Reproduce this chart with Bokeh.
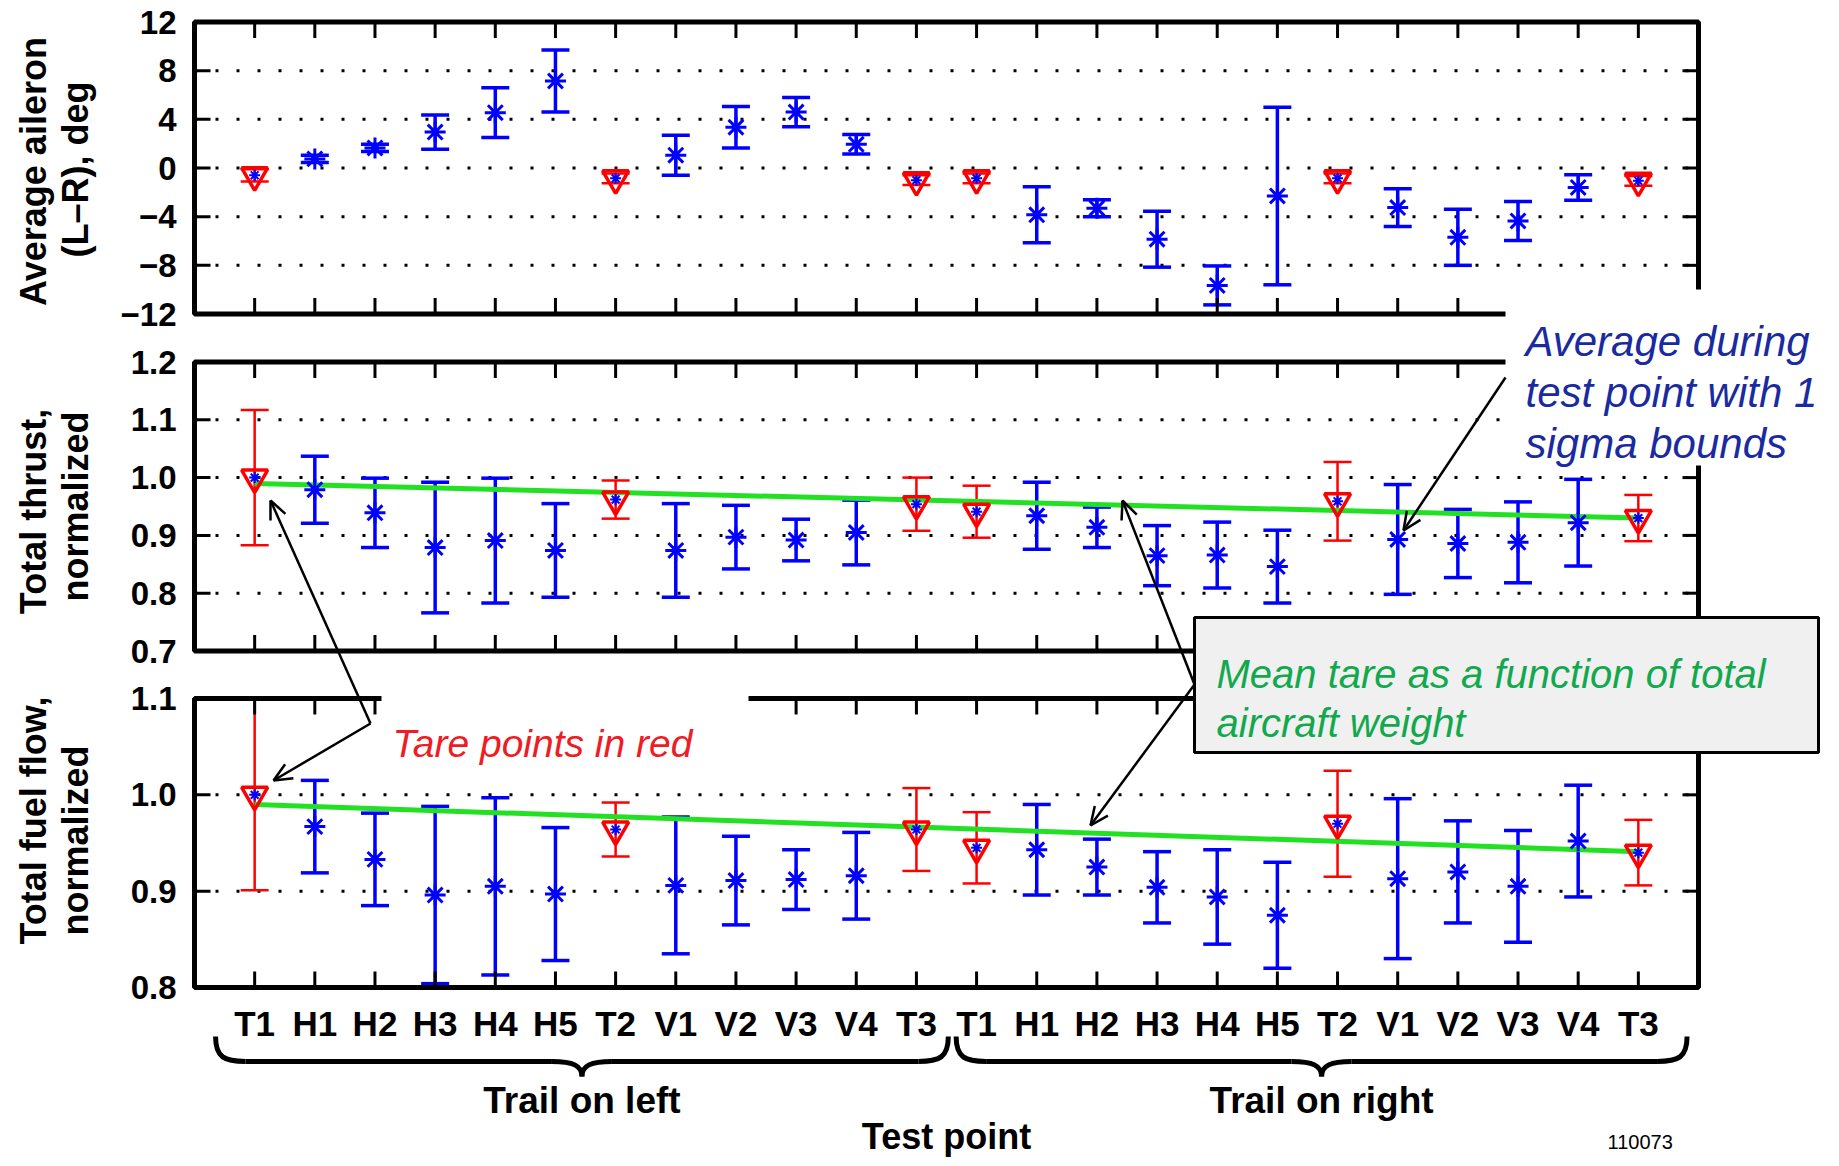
import math
from bokeh.plotting import figure
from bokeh.models import Range1d
from bokeh.core.properties import value
from bokeh.embed import file_html
from bokeh.resources import INLINE

# ---------------- data ----------------
test_points = ["T1", "H1", "H2", "H3", "H4", "H5", "T2", "V1", "V2", "V3", "V4", "T3",
               "T1", "H1", "H2", "H3", "H4", "H5", "T2", "V1", "V2", "V3", "V4", "T3"]
group_names = ["Trail on left", "Trail on right"]
group_brace_start = [0.35, 12.66]
group_brace_end = [12.53, 24.81]

aileron_mean = [-0.6, 0.75, 1.65, 2.95, 4.55, 7.15, -0.85, 1.05, 3.35, 4.6, 1.95, -1.0,
                -0.85, -3.85, -3.3, -5.85, -9.65, -2.3, -0.85, -3.25, -5.7, -4.35, -1.6, -1.05]
aileron_sd = [0.5, 0.3, 0.3, 1.4, 2.05, 2.55, 0.4, 1.65, 1.7, 1.2, 0.8, 0.4,
              0.4, 2.3, 0.7, 2.3, 1.6, 7.3, 0.4, 1.55, 2.3, 1.6, 1.05, 0.4]

thrust_mean = [1.0, 0.979, 0.939, 0.879, 0.891, 0.874, 0.962, 0.874, 0.897, 0.892, 0.905, 0.954,
               0.941, 0.934, 0.914, 0.865, 0.866, 0.846, 0.959, 0.893, 0.886, 0.888, 0.922, 0.930]
thrust_sd = [0.117, 0.058, 0.060, 0.113, 0.108, 0.081, 0.033, 0.081, 0.055, 0.036, 0.056, 0.046,
             0.045, 0.058, 0.035, 0.052, 0.057, 0.063, 0.068, 0.095, 0.059, 0.070, 0.075, 0.040]

fuel_mean = [1.0, 0.967, 0.933, 0.896, 0.905, 0.897, 0.964, 0.906, 0.911, 0.912, 0.916, 0.964,
             0.945, 0.943, 0.925, 0.904, 0.894, 0.875, 0.970, 0.913, 0.920, 0.905, 0.952, 0.940]
fuel_sd = [0.099, 0.048, 0.048, 0.092, 0.092, 0.069, 0.028, 0.071, 0.046, 0.031, 0.045, 0.043,
           0.037, 0.047, 0.029, 0.037, 0.049, 0.055, 0.055, 0.083, 0.053, 0.058, 0.058, 0.034]

fit_x = [1, 24]
thrust_fit = [0.990, 0.930]
fuel_fit = [0.990, 0.941]

aileron_ticks = [-12, -8, -4, 0, 4, 8, 12]
aileron_tick_labels = ["\u221212", "\u22128", "\u22124", "0", "4", "8", "12"]
thrust_ticks = [0.7, 0.8, 0.9, 1.0, 1.1, 1.2]
thrust_tick_labels = ["0.7", "0.8", "0.9", "1.0", "1.1", "1.2"]
fuel_ticks = [0.8, 0.9, 1.0, 1.1]
fuel_tick_labels = ["0.8", "0.9", "1.0", "1.1"]

# ---------------- layout ----------------
PM = 0
W, H = 1835, 1160
FX0, FX1 = 194.0, 1698.0
XD0, XD1 = 0.0, 25.0
kx = (FX1 - FX0) / (XD1 - XD0)

BLUE = "#0000ff"
RED = "#ff0000"
GREEN = "#22e022"
FONT = value("Liberation Sans")

is_tare = [tp.startswith("T") for tp in test_points]
xs = list(range(1, len(test_points) + 1))

panels = [
    dict(name="ail", top=21.5, bottom=313.5, mean=aileron_mean, sd=aileron_sd,
         ticks=aileron_ticks, labels=aileron_tick_labels, fit=None,
         ylabel=[("Average aileron", 33, 171), ("(L\u2013R), deg", 75, 169)]),
    dict(name="thr", top=361.5, bottom=650.5, mean=thrust_mean, sd=thrust_sd,
         ticks=thrust_ticks, labels=thrust_tick_labels, fit=thrust_fit,
         ylabel=[("Total thrust,", 33, 511), ("normalized", 75, 506)]),
    dict(name="ff", top=698.0, bottom=987.0, mean=fuel_mean, sd=fuel_sd,
         ticks=fuel_ticks, labels=fuel_tick_labels, fit=fuel_fit,
         ylabel=[("Total fuel flow,", 33, 820), ("normalized", 75, 840)]),
]

p = figure(width=W, height=H,
           x_range=Range1d(XD0 + (PM - FX0) / kx, XD0 + (PM + W - FX0) / kx),
           y_range=Range1d(PM + H, PM),
           x_axis_type=None, y_axis_type=None, min_border=0,
           toolbar_location=None, output_backend="svg", outline_line_color=None)
p.background_fill_color = "white"
p.border_fill_color = "white"
p.extra_x_ranges = {"px": Range1d(PM, PM + W)}

cap_half = 14.0 / kx
TICK = 16.0
tick_dx = TICK / kx

for pn in panels:
    lo, hi = pn["ticks"][0], pn["ticks"][-1]
    ky = (pn["bottom"] - pn["top"]) / (hi - lo)
    yr = pn["name"]
    p.extra_y_ranges[yr] = Range1d(hi - (PM + H - pn["top"]) / ky, hi + (pn["top"] - PM) / ky)
    tick_dy = TICK / ky

    inner = pn["ticks"][1:-1]
    p.segment(x0=[XD0] * len(inner), x1=[XD1] * len(inner), y0=inner, y1=inner,
              y_range_name=yr, line_color="black", line_width=3, line_dash="3 18")

    mean, sd = pn["mean"], pn["sd"]
    lo_v = [m - s for m, s in zip(mean, sd)]
    hi_v = [m + s for m, s in zip(mean, sd)]
    cols = [RED if t else BLUE for t in is_tare]
    lws = [2.5 if t else 3.5 for t in is_tare]
    p.segment(x0=xs, x1=xs, y0=lo_v, y1=hi_v, y_range_name=yr, line_color=cols, line_width=lws)
    for v in (lo_v, hi_v):
        p.segment(x0=[x - cap_half for x in xs], x1=[x + cap_half for x in xs], y0=v, y1=v,
                  y_range_name=yr, line_color=cols, line_width=lws)

    if pn["fit"] is not None:
        p.line(fit_x, pn["fit"], y_range_name=yr, line_color=GREEN, line_width=5)

    tx = [x for x, t in zip(xs, is_tare) if t]
    ty = [m for m, t in zip(mean, is_tare) if t]
    nx = [x for x, t in zip(xs, is_tare) if not t]
    ny = [m for m, t in zip(mean, is_tare) if not t]
    p.scatter(nx, ny, y_range_name=yr, marker="asterisk", size=21, line_color=BLUE, line_width=3)
    p.scatter(tx, ty, y_range_name=yr, marker="inverted_triangle", size=26,
              fill_color=None, line_color=RED, line_width=3.5)
    p.scatter(tx, ty, y_range_name=yr, marker="asterisk", size=11, line_color=BLUE, line_width=2)

    # frame
    p.quad(left=[XD0], right=[XD1], bottom=[lo], top=[hi], y_range_name=yr,
           fill_color=None, line_color="black", line_width=5)
    # x ticks (top and bottom)
    p.segment(x0=xs, x1=xs, y0=[lo] * len(xs), y1=[lo + tick_dy] * len(xs),
              y_range_name=yr, line_color="black", line_width=3)
    p.segment(x0=xs, x1=xs, y0=[hi] * len(xs), y1=[hi - tick_dy] * len(xs),
              y_range_name=yr, line_color="black", line_width=3)
    # y ticks (left and right)
    tk = pn["ticks"]
    p.segment(x0=[XD0] * len(tk), x1=[XD0 + tick_dx] * len(tk), y0=tk, y1=tk,
              y_range_name=yr, line_color="black", line_width=3)
    p.segment(x0=[XD1] * len(tk), x1=[XD1 - tick_dx] * len(tk), y0=tk, y1=tk,
              y_range_name=yr, line_color="black", line_width=3)
    # tick labels
    p.text(x=[176] * len(tk), y=tk, text=pn["labels"], x_range_name="px", y_range_name=yr,
           text_align="right", text_baseline="middle", text_font=FONT,
           text_font_style="bold", text_font_size="33px", text_color="black")
    # y labels
    for txt, lx, ly in pn["ylabel"]:
        p.text(x=[lx], y=[ly], text=[txt], x_range_name="px", angle=math.pi / 2,
               text_align="center", text_baseline="middle", text_font=FONT,
               text_font_style="bold", text_font_size="36px", text_color="black")

# x tick labels
p.text(x=xs, y=[1023] * len(xs), text=test_points, text_align="center", text_baseline="middle",
       text_font=FONT, text_font_style="bold", text_font_size="35px", text_color="black")

# group braces
for name, g0, g1 in zip(group_names, group_brace_start, group_brace_end):
    xa = g0 * kx + FX0
    xb = g1 * kx + FX0
    xc = (xa + xb) / 2
    yt, ym, yb = 1036, 1061, 1076
    r = 30
    x0 = [xa, xb, xc - r, xc + r]
    y0 = [yt, yt, ym, ym]
    x1 = [xa + r, xb - r, xc, xc]
    y1 = [ym, ym, yb, yb]
    cx0 = [xa, xb, xc - r * 0.3, xc + r * 0.3]
    cy0 = [ym - 4, ym - 4, ym, ym]
    cx1 = [xa + r * 0.3, xb - r * 0.3, xc, xc]
    cy1 = [ym, ym, ym + 4, ym + 4]
    p.bezier(x0=x0, y0=y0, x1=x1, y1=y1, cx0=cx0, cy0=cy0, cx1=cx1, cy1=cy1,
             x_range_name="px", line_color="black", line_width=5)
    p.segment(x0=[xa + r, xc + r], x1=[xc - r, xb - r], y0=[ym, ym], y1=[ym, ym],
              x_range_name="px", line_color="black", line_width=5)
    p.text(x=[xc], y=[1100], text=[name], x_range_name="px", text_align="center",
           text_baseline="middle", text_font=FONT, text_font_style="bold",
           text_font_size="37px", text_color="black")

p.text(x=[(XD0 + XD1) / 2], y=[1136], text=["Test point"], text_align="center",
       text_baseline="middle", text_font=FONT, text_font_style="bold",
       text_font_size="36px", text_color="black")
p.text(x=[1607], y=[1148], text=["110073"], x_range_name="px", text_align="left",
       text_baseline="bottom", text_font=FONT, text_font_size="20px", text_color="black")

# ---------------- annotations ----------------
p.quad(left=[1505], right=[PM + W], top=[289], bottom=[465], x_range_name="px",
       fill_color="white", line_color=None)
p.quad(left=[381], right=[748], top=[685], bottom=[760], x_range_name="px",
       fill_color="white", line_color=None)
p.quad(left=[1194], right=[1818], top=[617], bottom=[752], x_range_name="px",
       fill_color="#f0f0f0", line_color="black", line_width=3)


def arrow(x0, y0, x1, y1, head=20, ang=0.42):
    a = math.atan2(y1 - y0, x1 - x0)
    hx1 = x1 - head * math.cos(a - ang)
    hy1 = y1 - head * math.sin(a - ang)
    hx2 = x1 - head * math.cos(a + ang)
    hy2 = y1 - head * math.sin(a + ang)
    p.segment(x0=[x0, x1, x1], y0=[y0, y1, y1], x1=[x1, hx1, hx2], y1=[y1, hy1, hy2],
              x_range_name="px", line_color="black", line_width=2.5)


arrow(370, 723, 270, 500)
arrow(370, 723, 273, 780)
arrow(1505, 377, 1403, 530)
arrow(1194, 684, 1122, 500)
arrow(1194, 684, 1090, 825)

ITF = dict(x_range_name="px", text_align="left", text_baseline="alphabetic", text_font=FONT,
           text_font_style="italic")
p.text(x=[392], y=[743], text=["Tare points in red"], text_color="#ee1c24",
       text_font_size="39px", **ITF)
p.text(x=[1525] * 3, y=[341, 392, 443],
       text=["Average during", "test point with 1", "sigma bounds"], text_color="#1a2aa0",
       text_font_size="42px", **ITF)
p.text(x=[1216] * 2, y=[673, 722], text=["Mean tare as a function of total", "aircraft weight"],
       text_color="#12a84e", text_font_size="40px", **ITF)

open("out.html", "w").write(file_html(p, INLINE))
